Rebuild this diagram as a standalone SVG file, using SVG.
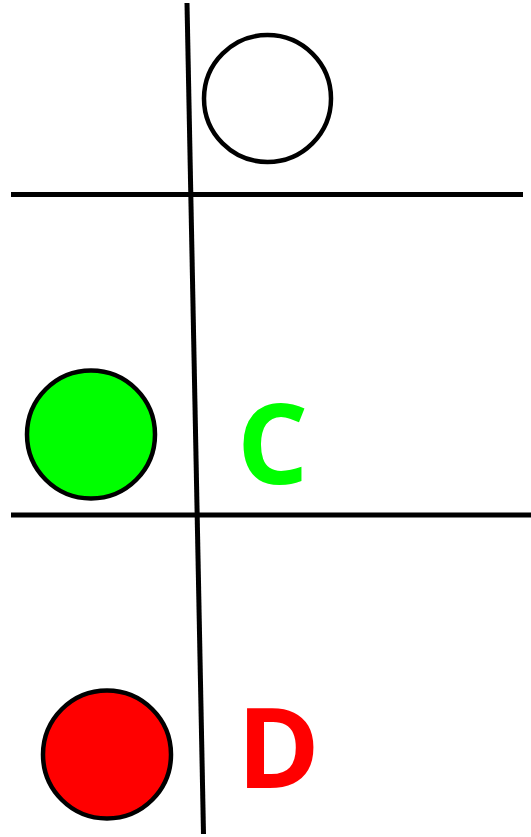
<svg xmlns="http://www.w3.org/2000/svg" width="531" height="837" viewBox="0 0 531 837">
<style>
.ln{stroke:#000;stroke-width:5;fill:none}
.c{stroke:#000;stroke-width:4.5}
.lbl{font-family:"Open Sans","Liberation Sans",sans-serif;font-weight:bold;font-size:112px}
</style>
<rect width="531" height="837" fill="#fff"/>
<g id="connectors">
<line class="ln" x1="187" y1="3" x2="203.5" y2="834"/>
<line class="ln" x1="11" y1="194.5" x2="523" y2="194.5"/>
<line class="ln" x1="11" y1="515" x2="531" y2="515"/>
</g>
<g id="node-white"><circle class="c" cx="267.5" cy="98.5" r="63.5" fill="#fff"/></g>
<g id="node-green"><circle class="c" cx="91" cy="434.5" r="64" fill="#00ff00"/></g>
<g id="node-red"><circle class="c" cx="107" cy="754.5" r="64" fill="#ff0000"/></g>
<g id="label-c"><text class="lbl" x="237" y="484" fill="#00ff00">C</text></g>
<g id="label-d"><text class="lbl" x="237" y="788" fill="#ff0000">D</text></g>
</svg>
